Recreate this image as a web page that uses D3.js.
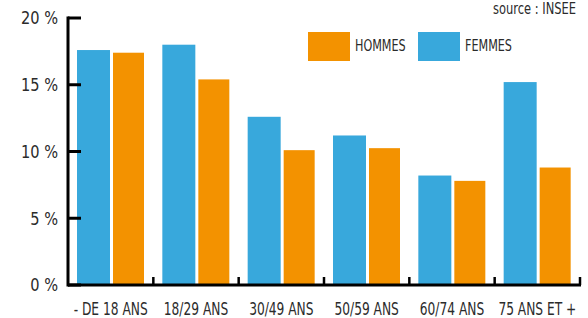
<!DOCTYPE html>
<html>
<head>
<meta charset="utf-8">
<script src="https://cdn.jsdelivr.net/npm/d3@7"></script>
<style>
  body { margin: 0; background: #fff; }
  svg text { font-family: "DejaVu Sans Condensed", "Liberation Sans Narrow", sans-serif; fill: #2b2b2b; }
</style>
</head>
<body>
<div id="chart"></div>
<script>
// categories and values (%)
const categories = ['- DE 18 ANS', '18/29 ANS', '30/49 ANS', '50/59 ANS', '60/74 ANS', '75 ANS ET +'];
const femmes = [17.6, 18.0, 12.6, 11.2, 8.2, 15.2];
const hommes = [17.4, 15.4, 10.1, 10.25, 7.8, 8.8];
const yTicks = [0, 5, 10, 15, 20];
const seriesNames = ['HOMMES', 'FEMMES'];

const BLUE = '#38a8dc';
const ORANGE = '#f39200';

const width = 588, height = 318;

const svg = d3.select('#chart').append('svg')
    .attr('width', width)
    .attr('height', height);

// scales
const x = d3.scaleBand()
    .domain(categories)
    .range([68, 580]);

const y = d3.scaleLinear()
    .domain([0, 20])
    .range([285, 18]);

// bars
const groups = svg.selectAll('g.grp')
    .data(categories)
    .join('g')
    .attr('class', 'grp')
    .attr('transform', d => `translate(${x(d)},0)`);

groups.append('rect')
    .attr('x', 9)
    .attr('width', 33)
    .attr('y', (d, i) => y(femmes[i]))
    .attr('height', (d, i) => y(0) - y(femmes[i]))
    .attr('fill', BLUE);

groups.append('rect')
    .attr('x', 45)
    .attr('width', 31)
    .attr('y', (d, i) => y(hommes[i]))
    .attr('height', (d, i) => y(0) - y(hommes[i]))
    .attr('fill', ORANGE);

// y axis
const yAxisG = svg.append('g');
yAxisG.append('line')
    .attr('x1', 68).attr('x2', 68)
    .attr('y1', y(20) - 1.5).attr('y2', y(0) + 1.5)
    .attr('stroke', '#000').attr('stroke-width', 3);

yAxisG.selectAll('line.tick')
    .data(yTicks)
    .join('line')
    .attr('class', 'tick')
    .attr('x1', 68).attr('x2', 81)
    .attr('y1', d => y(d)).attr('y2', d => y(d))
    .attr('stroke', '#000').attr('stroke-width', 3);

yAxisG.selectAll('text')
    .data(yTicks)
    .join('text')
    .attr('transform', d => `translate(58,${y(d)}) scale(0.9,1)`)
    .attr('dy', '0.35em')
    .attr('text-anchor', 'end')
    .style('font-size', '18px')
    .text(d => d + ' %');

// x axis
const xAxisG = svg.append('g');
xAxisG.append('line')
    .attr('x1', 68).attr('x2', 581)
    .attr('y1', y(0)).attr('y2', y(0))
    .attr('stroke', '#000').attr('stroke-width', 3);

xAxisG.selectAll('line.tick')
    .data(categories)
    .join('line')
    .attr('class', 'tick')
    .attr('x1', d => x(d) + x.bandwidth())
    .attr('x2', d => x(d) + x.bandwidth())
    .attr('y1', y(0)).attr('y2', y(0) - 8)
    .attr('stroke', '#000').attr('stroke-width', 2.5);

xAxisG.selectAll('text')
    .data(categories)
    .join('text')
    .attr('transform', d => `translate(${x(d) + x.bandwidth() / 2},309) scale(0.8,1)`)
    .attr('dy', '0.35em')
    .attr('text-anchor', 'middle')
    .style('font-size', '17px')
    .text(d => d);

// legend
const legendData = [
    { name: seriesNames[0], color: ORANGE, x: 308 },
    { name: seriesNames[1], color: BLUE, x: 418 }
];
const legend = svg.selectAll('g.legend')
    .data(legendData)
    .join('g')
    .attr('class', 'legend')
    .attr('transform', d => `translate(${d.x},32)`);

legend.append('rect')
    .attr('width', 42).attr('height', 29)
    .attr('fill', d => d.color);

legend.append('text')
    .attr('transform', 'translate(47,14) scale(0.83,1)')
    .attr('dy', '0.35em')
    .style('font-size', '15px')
    .text(d => d.name);

// source
svg.append('text')
    .attr('transform', 'translate(576,9) scale(0.85,1)')
    .attr('dy', '0.35em')
    .attr('text-anchor', 'end')
    .style('font-size', '15px')
    .text('source : INSEE');
</script>
</body>
</html>
